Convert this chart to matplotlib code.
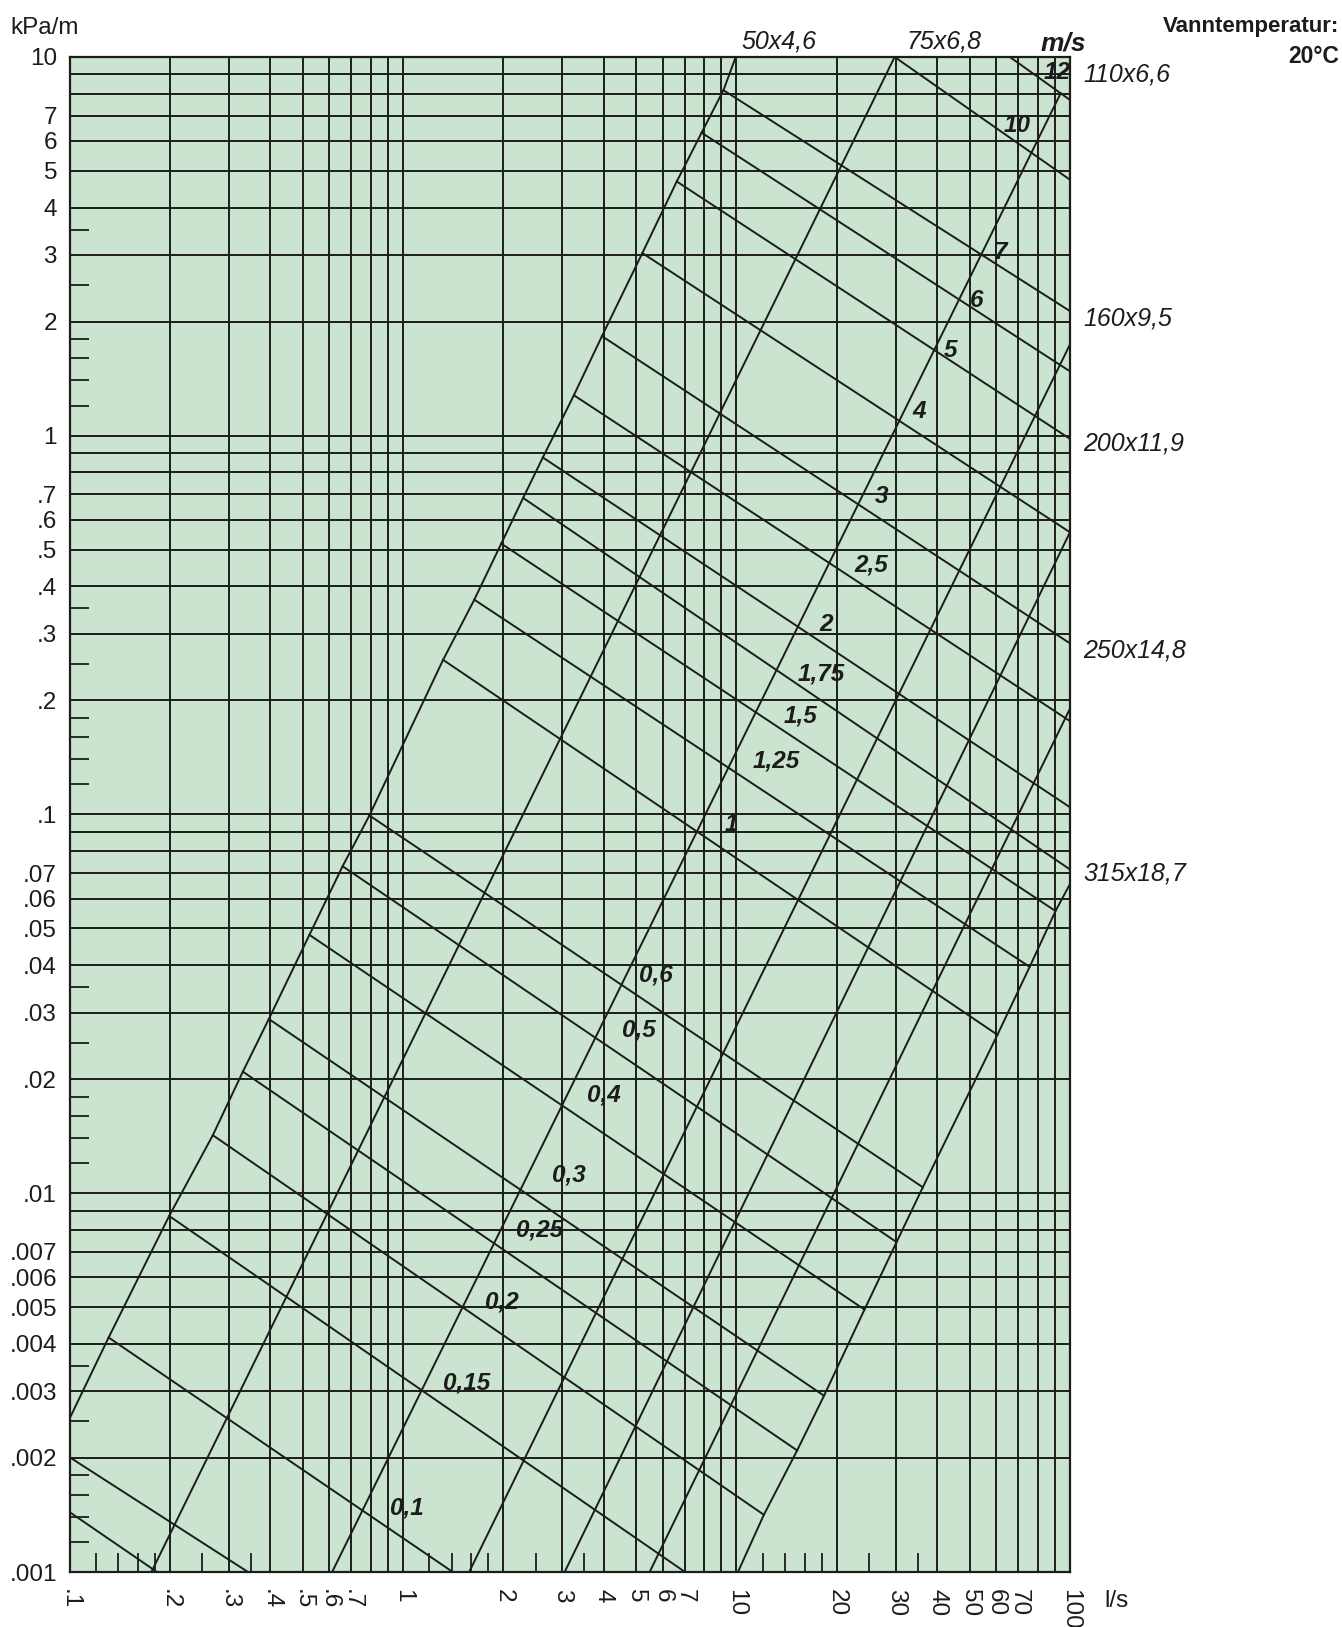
import matplotlib.pyplot as plt
from matplotlib.ticker import FixedLocator, FixedFormatter, NullFormatter
from matplotlib.transforms import blended_transform_factory

# grid lines (major) and short ticks (minor)
q_major = [0.1, 0.2, 0.3, 0.4, 0.5, 0.6, 0.7, 0.8, 0.9,
           1, 2, 3, 4, 5, 6, 7, 8, 9,
           10, 20, 30, 40, 50, 60, 70, 80, 90, 100]
q_labels = ['.1', '.2', '.3', '.4', '.5', '.6', '.7', '', '',
            '1', '2', '3', '4', '5', '6', '7', '', '',
            '10', '20', '30', '40', '50', '60', '70', '', '', '100']
q_minor = [0.12, 0.14, 0.16, 0.18, 0.25, 0.35,
           1.2, 1.4, 1.6, 1.8, 2.5, 3.5,
           12, 14, 16, 18, 25, 35]

r_major = [0.001, 0.002, 0.003, 0.004, 0.005, 0.006, 0.007, 0.008, 0.009,
           0.01, 0.02, 0.03, 0.04, 0.05, 0.06, 0.07, 0.08, 0.09,
           0.1, 0.2, 0.3, 0.4, 0.5, 0.6, 0.7, 0.8, 0.9,
           1, 2, 3, 4, 5, 6, 7, 8, 9, 10]
r_labels = ['.001', '.002', '.003', '.004', '.005', '.006', '.007', '', '',
            '.01', '.02', '.03', '.04', '.05', '.06', '.07', '', '',
            '.1', '.2', '.3', '.4', '.5', '.6', '.7', '', '',
            '1', '2', '3', '4', '5', '6', '7', '', '', '10']
r_minor = [0.0012, 0.0014, 0.0016, 0.0018, 0.0025, 0.0035,
           0.012, 0.014, 0.016, 0.018, 0.025, 0.035,
           0.12, 0.14, 0.16, 0.18, 0.25, 0.35,
           1.2, 1.4, 1.6, 1.8, 2.5, 3.5]

# velocity lines (m/s), start and end (l/s, kPa/m)
vel_labels = ['', '', '0,1', '0,15', '0,2', '0,25', '0,3', '0,4', '0,5', '0,6',
              '1', '1,25', '1,5', '1,75', '2', '2,5', '3', '4', '5', '6', '7',
              '10', '12']
vel_q0 = [0.1, 0.1, 0.131, 0.199, 0.269, 0.331, 0.396, 0.524, 0.659, 0.793,
          1.319, 1.636, 1.971, 2.292, 2.626, 3.254, 3.95, 5.22, 6.62, 7.86, 9.14,
          29.8, 66.0]
vel_r0 = [0.00144, 0.00201, 0.00416, 0.00871, 0.01423, 0.02094, 0.02884, 0.0481,
          0.0730, 0.0994, 0.256, 0.369, 0.519, 0.685, 0.876, 1.279, 1.832, 3.035,
          4.69, 6.31, 8.17, 10, 10]
vel_q1 = [0.183, 0.343, 1.41, 7.01, 12.08, 15.2, 18.3, 24.2, 30.2, 36.2,
          60.6, 75.7, 90.5, 100, 100, 100, 100, 100, 100, 100, 100, 100, 100]
vel_r1 = [0.001, 0.001, 0.001, 0.001, 0.001416, 0.002094, 0.00292, 0.00493,
          0.00743, 0.01037, 0.0262, 0.0396, 0.0556, 0.0716, 0.1045, 0.1764,
          0.283, 0.556, 0.981, 1.479, 2.133, 4.74, 7.70]
vel_lab_q = [None, None, 1.03, 1.556, 1.986, 2.57, 3.14, 4.01, 5.11, 5.73,
             9.68, 13.17, 15.53, 17.9, 18.6, 25.3, 27.2, 35.2, 43.9, 52.5, 61.9,
             69.4, 91.2]
vel_lab_r = [None, None, 0.00148, 0.00316, 0.00515, 0.00802, 0.01114, 0.0182,
             0.0269, 0.0376, 0.094, 0.1388, 0.182, 0.2344, 0.317, 0.4546, 0.689,
             1.156, 1.678, 2.27, 3.055, 6.6, 9.1]

# pipe lines (PE pipes)
pipe_names = ['50x4,6', '75x6,8', '110x6,6', '160x9,5', '200x11,9', '250x14,8', '315x18,7']
pipe_q0 = [0.1, 0.176, 0.613, 1.579, 3.053, 5.49, 10.1]
pipe_r0 = [0.00254, 0.001, 0.001, 0.001, 0.001, 0.001, 0.001]
pipe_q1 = [9.95, 29.8, 93.8, 100, 100, 100, 100]
pipe_r1 = [10, 10, 8.02, 1.742, 0.556, 0.1904, 0.0655]

# label positions for pipe names
top_lab_q = [13.4, 42.0]
side_lab_r = [8.98, 2.04, 0.951, 0.271, 0.0698]

bg = '#cbe4cf'
ink = '#1c1c1c'
plt.rcParams['font.family'] = ['Liberation Sans', 'DejaVu Sans']

fig = plt.figure(figsize=(13.42, 16.27), dpi=100)
ax = fig.add_axes([0.0518, 0.0338, 0.7455, 0.9312])
ax.set_xscale('log')
ax.set_yscale('log')
ax.set_xlim(0.1, 100)
ax.set_ylim(0.001, 10)
ax.set_facecolor(bg)

ax.xaxis.set_major_locator(FixedLocator(q_major))
ax.xaxis.set_major_formatter(FixedFormatter(q_labels))
ax.xaxis.set_minor_locator(FixedLocator(q_minor))
ax.xaxis.set_minor_formatter(NullFormatter())
ax.yaxis.set_major_locator(FixedLocator(r_major))
ax.yaxis.set_major_formatter(FixedFormatter(r_labels))
ax.yaxis.set_minor_locator(FixedLocator(r_minor))
ax.yaxis.set_minor_formatter(NullFormatter())

ax.tick_params(which='major', length=0, labelsize=17.5, colors=ink)
ax.tick_params(axis='x', which='major', pad=12, labelrotation=270)
ax.tick_params(axis='y', which='major', pad=9)
ax.tick_params(which='minor', direction='in', length=14, width=1.3, color=ink)
ax.grid(which='major', color=ink, lw=1.4)
ax.set_axisbelow(True)
for s in ax.spines.values():
    s.set_color(ink)
    s.set_linewidth(1.6)

# pipe lines; first and last pass through the velocity line ends
a_q = [pipe_q0[0]] + vel_q0[2:21] + [pipe_q1[0]]
a_r = [pipe_r0[0]] + vel_r0[2:21] + [pipe_r1[0]]
ax.plot(a_q, a_r, color=ink, lw=1.4)
for i in range(1, 6):
    ax.plot([pipe_q0[i], pipe_q1[i]], [pipe_r0[i], pipe_r1[i]], color=ink, lw=1.4)
g_q = [pipe_q0[6]] + vel_q1[4:13] + [pipe_q1[6]]
g_r = [pipe_r0[6]] + vel_r1[4:13] + [pipe_r1[6]]
ax.plot(g_q, g_r, color=ink, lw=1.4)

# velocity lines
for i in range(len(vel_labels)):
    ax.plot([vel_q0[i], vel_q1[i]], [vel_r0[i], vel_r1[i]], color=ink, lw=1.4)
    if vel_labels[i]:
        ax.text(vel_lab_q[i], vel_lab_r[i], vel_labels[i], fontsize=17.5,
                fontweight='bold', fontstyle='italic', color=ink,
                ha='center', va='center')

# pipe names
tr_top = blended_transform_factory(ax.transData, ax.transAxes)
tr_side = blended_transform_factory(ax.transAxes, ax.transData)
for q, name in zip(top_lab_q, pipe_names[:2]):
    ax.text(q, 1.0105, name, transform=tr_top, fontsize=18, fontstyle='italic',
            color=ink, ha='center', va='center')
ax.text(95.2, 1.009, 'm/s', transform=tr_top, fontsize=19, fontstyle='italic',
        fontweight='bold', color=ink, ha='center', va='center')
for r, name in zip(side_lab_r, pipe_names[2:]):
    ax.text(1.0135, r, name, transform=tr_side, fontsize=18, fontstyle='italic',
            color=ink, ha='left', va='center')

fig.text(0.0078, 0.983, 'kPa/m', fontsize=17.5, color=ink, ha='left', va='center')
fig.text(0.823, 0.016, 'l/s', fontsize=17.5, color=ink, ha='left', va='center')
fig.text(0.998, 0.984, 'Vanntemperatur:', fontsize=16, fontweight='bold',
         fontstretch='condensed', family=['Liberation Sans Narrow', 'Liberation Sans'],
         color=ink, ha='right', va='center')
fig.text(0.998, 0.965, '20°C', fontsize=16.5, fontweight='bold',
         fontstretch='condensed', family=['Liberation Sans Narrow', 'Liberation Sans'],
         color=ink, ha='right', va='center')

fig.savefig('out.png', dpi=100)
